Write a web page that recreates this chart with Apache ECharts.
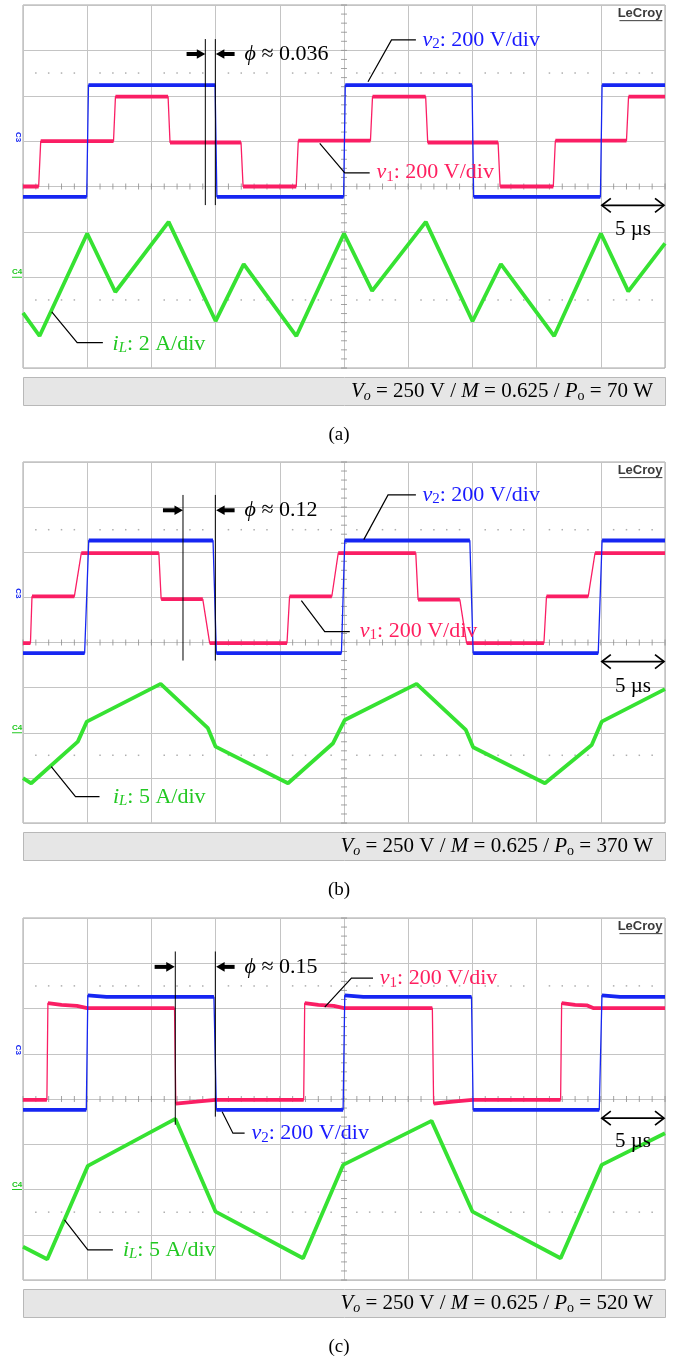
<!DOCTYPE html>
<html>
<head>
<meta charset="utf-8">
<title>Oscilloscope waveforms</title>
<script src="https://cdn.jsdelivr.net/npm/echarts@6.0.0/dist/echarts.min.js"></script>
<style>
html,body{margin:0;padding:0;background:#fff;}
#chart{width:679px;height:1359px;}
</style>
</head>
<body>
<div id="chart"></div>
<script>
// ---------------- data: time in µs, voltage in V, current in A ----------------
// panel (a)  Po = 70 W
const v1_a = [[0,-200],[1.22,-200],[1.38,0],[7.05,0],[7.2,196],[11.3,196],[11.45,-6],[16.98,-6],[17.14,-200],[21.28,-200],[21.44,2],[27.06,2],[27.22,196],[31.36,196],[31.52,-6],[37.0,-6],[37.16,-200],[41.3,-200],[41.46,2],[47.0,2],[47.16,196],[50,196]];
const v2_a = [[0,-246],[4.96,-246],[5.1,247],[14.96,247],[15.1,-246],[24.97,-246],[25.1,247],[34.97,247],[35.1,-246],[44.97,-246],[45.1,247],[50,247]];
const iL_a = [[0,-1.57],[1.29,-2.59],[5.0,1.93],[7.19,-0.65],[11.34,2.44],[15.0,-1.93],[17.19,0.58],[21.29,-2.59],[25.0,1.93],[27.19,-0.6],[31.37,2.44],[35.01,-1.94],[37.22,0.58],[41.37,-2.59],[45.01,1.93],[47.14,-0.62],[50,1.49]];
// panel (b)  Po = 370 W
const v1_b = [[0,-203],[0.58,-203],[0.7,4],[4.0,4],[4.54,196],[10.58,196],[10.76,-8],[14.0,-8],[14.54,-203],[20.56,-203],[20.76,4],[24.05,4],[24.55,196],[30.59,196],[30.77,-10],[34.02,-10],[34.55,-203],[40.57,-203],[40.77,4],[44.02,4],[44.55,196],[50,196]];
const v2_b = [[0,-247],[4.8,-247],[5.12,252],[14.8,252],[15.06,-247],[24.8,-247],[25.06,252],[34.8,252],[35.06,-247],[44.8,-247],[45.1,252],[50,252]];
const iL_b = [[0,-5.04],[0.64,-5.6],[4.27,-0.98],[4.97,1.23],[10.72,5.41],[14.4,0.5],[15.0,-1.54],[20.64,-5.6],[24.15,-1.16],[25.06,1.42],[30.65,5.41],[34.49,0.31],[35.06,-1.61],[40.65,-5.6],[44.29,-1.35],[45.07,1.23],[50,4.83]];
// panel (c)  Po = 520 W
const v1_c = [[0,-204],[1.86,-204],[1.94,224],[3.0,216],[4.2,212],[5.0,202],[11.8,202],[11.9,-220],[13.5,-212],[15.0,-204],[21.86,-204],[21.94,224],[23.0,216],[24.2,212],[25.0,202],[31.88,202],[31.98,-220],[33.5,-212],[35.0,-204],[41.87,-204],[41.95,224],[43.0,216],[43.9,214],[44.4,202],[50,202]];
const v2_c = [[0,-248],[4.93,-248],[5.05,258],[6.5,251],[14.87,251],[15.06,-248],[24.93,-248],[25.06,258],[26.5,251],[34.93,251],[35.06,-248],[44.88,-248],[45.09,258],[46.5,251],[50,251]];
const iL_c = [[0,-6.32],[1.89,-7.71],[5.05,2.61],[11.86,7.81],[15.0,-2.45],[21.81,-7.6],[24.93,2.72],[31.82,7.58],[35.01,-2.45],[41.87,-7.6],[45.07,2.72],[50,6.22]];

const panelTags   = ['(a)','(b)','(c)'];
const powerValues = ['70 W','370 W','520 W'];
const phiValues   = ['0.036','0.12','0.15'];
const iLScaleText = ['2 A/div','5 A/div','5 A/div'];
const iPerDiv     = [2,5,5];          // A per division
const vPerDiv     = 200;              // V per division
const timePerDiv  = 5;                // µs per division

const V1 = [v1_a, v1_b, v1_c];
const V2 = [v2_a, v2_b, v2_c];
const IL = [iL_a, iL_b, iL_c];

// ---------------- layout ----------------
const GX = 23, GW = 642;
const GT = [5, 462, 918];
const GH = [363, 361, 362];
const SERIF = "'Liberation Serif','Times New Roman',serif";
const RED = '#fa1e64', BLUE = '#1626f2', GREEN = '#36e232';
const RED_T = '#ff2060', BLUE_T = '#1a1aff', GREEN_T = '#22c822';

// break a step waveform at its fast edges so that the flat parts can be drawn thick
function flats(data){
  const out = [];
  for (let i = 0; i < data.length; i++){
    out.push(data[i]);
    if (i < data.length - 1){
      const dt = data[i+1][0] - data[i][0], dv = Math.abs(data[i+1][1] - data[i][1]);
      if (dt < 0.7 && dv > 60) out.push([(data[i][0]+data[i+1][0])/2, '-']);
    }
  }
  return out;
}

// grid decoration: centre-cross minor ticks and dotted reference lines
function decoTicksH(){ const a=[]; for(let t=0;t<=50;t+=1) a.push([t,-200]); return a; }
function decoTicksV(){ const a=[]; for(let v=-1000;v<=600;v+=40) a.push([25,v]); return a; }
function decoDots(){ const a=[]; for(let t=1;t<50;t+=1){ if(t%5) { a.push([t,300]); a.push([t,-700]); } } return a; }

const grids=[], xAxes=[], yAxes=[], series=[];
for (let k=0;k<3;k++){
  grids.push({left:GX, top:GT[k], width:GW, height:GH[k], show:true, borderColor:'#a4a4a4', borderWidth:1, backgroundColor:'#fff'});
  xAxes.push({gridIndex:k, type:'value', min:0, max:10*timePerDiv, interval:timePerDiv,
    axisLine:{show:false}, axisTick:{show:false}, axisLabel:{show:false},
    splitLine:{show:true, lineStyle:{color:'#c4c4c4', width:1}}});
  yAxes.push({gridIndex:k, type:'value', min:-5*vPerDiv, max:3*vPerDiv, interval:vPerDiv,
    axisLine:{show:false}, axisTick:{show:false}, axisLabel:{show:false},
    splitLine:{show:true, lineStyle:{color:'#c4c4c4', width:1}}});
  yAxes.push({gridIndex:k, type:'value', min:-2*iPerDiv[k], max:6*iPerDiv[k], show:false, splitLine:{show:false}});
  const base = {xAxisIndex:k, yAxisIndex:2*k, silent:true, animation:false};
  series.push(Object.assign({type:'scatter', data:decoTicksH(), symbol:'rect', symbolSize:[1,6], itemStyle:{color:'#8c8c8c'}, z:1}, base));
  series.push(Object.assign({type:'scatter', data:decoTicksV(), symbol:'rect', symbolSize:[6,1], itemStyle:{color:'#8c8c8c'}, z:1}, base));
  series.push(Object.assign({type:'scatter', data:decoDots(), symbol:'rect', symbolSize:[1.5,1.5], itemStyle:{color:'#9a9a9a'}, z:1}, base));
  const ln = (data, color, w, z, yi) => ({type:'line', xAxisIndex:k, yAxisIndex:yi, data:data, symbol:'none', showSymbol:false,
      lineStyle:{color:color, width:w}, silent:true, animation:false, z:z, connectNulls:false});
  series.push(ln(V1[k], RED, 1.3, 3, 2*k));
  series.push(ln(flats(V1[k]), RED, 3.8, 3, 2*k));
  series.push(ln(V2[k], BLUE, 1.3, 4, 2*k));
  series.push(ln(flats(V2[k]), BLUE, 3.8, 4, 2*k));
  series.push(ln(IL[k], GREEN, 3.8, 5, 2*k+1));
}

const chart = echarts.init(document.getElementById('chart'), null, {renderer:'canvas'});
chart.setOption({animation:false, backgroundColor:'#fff', grid:grids, xAxis:xAxes, yAxis:yAxes, series:series});

// ---------------- annotations (positions in µs / screen divisions) ----------------
const notes = [
  { phiLines:[[14.2,7.25,3.59],[14.98,7.25,3.59]], arrR:[12.74,14.2], arrL:[16.48,15.02], arrY:6.92, phiAt:[17.26,6.92],
    labels:[
      {who:'v2', pts:[[30.6,7.23],[28.7,7.23],[26.87,6.31]], at:[31.11,7.23]},
      {who:'v1', pts:[[23.11,4.95],[25.06,4.30],[27.0,4.30]], at:[27.53,4.31]},
      {who:'iL', pts:[[2.24,1.235],[4.22,0.56],[6.22,0.56]], at:[6.98,0.53]} ],
    us:[3.585,3.05] },
  { phiLines:[[12.46,7.27,3.60],[14.98,7.27,3.60]], arrR:[10.9,12.46], arrL:[16.48,15.04], arrY:6.93, phiAt:[17.26,6.93],
    labels:[
      {who:'v2', pts:[[30.6,7.27],[28.43,7.27],[26.54,6.28]], at:[31.11,7.27]},
      {who:'v1', pts:[[21.68,4.93],[23.5,4.243],[25.45,4.243]], at:[26.23,4.26]},
      {who:'iL', pts:[[2.2,1.25],[4.09,0.583],[5.96,0.583]], at:[7.0,0.575]} ],
    us:[3.577,3.02] },
  { phiLines:[[11.86,7.26,3.43],[14.98,7.26,3.61]], arrR:[10.25,11.82], arrL:[16.48,15.04], arrY:6.92, phiAt:[17.26,6.92],
    labels:[
      {who:'v1', pts:[[23.5,6.03],[25.58,6.67],[27.26,6.67]], at:[27.79,6.67]},
      {who:'v2', pts:[[15.51,3.716],[16.35,3.245],[17.26,3.245]], at:[17.79,3.245]},
      {who:'iL', pts:[[3.23,1.327],[5.05,0.664],[7.0,0.664]], at:[7.78,0.664]} ],
    us:[3.577,3.06] }
];

function P(k,t,d){ return chart.convertToPixel({xAxisIndex:k, yAxisIndex:2*k}, [t,(d-5)*vPerDiv]); }
function richSet(color,size){
  const sub = Math.round(size*0.66), pad = Math.round(size*0.42);
  return {
    n:{fill:color,fontFamily:SERIF,fontSize:size},
    i:{fill:color,fontFamily:SERIF,fontSize:size,fontStyle:'italic'},
    s:{fill:color,fontFamily:SERIF,fontSize:sub,padding:[pad,0,0,0]},
    si:{fill:color,fontFamily:SERIF,fontSize:sub,fontStyle:'italic',padding:[pad,0,0,0]}
  };
}
function txt(x,y,str,color,size,align){
  return {type:'text', x:x, y:y, z:100, silent:true,
    style:{text:str, rich:richSet(color,size), fill:color, fontFamily:SERIF, fontSize:size, align:align||'left', verticalAlign:'middle'}};
}
const G = [];
function seg(a,b,w,c){ G.push({type:'line', z:90, silent:true, shape:{x1:a[0],y1:a[1],x2:b[0],y2:b[1]}, style:{stroke:c||'#000', lineWidth:w||1}}); }
function poly(pts,w){ G.push({type:'polyline', z:90, silent:true, shape:{points:pts}, style:{stroke:'#000', lineWidth:w||1.2, fill:null}}); }

for (let k=0;k<3;k++){
  const n = notes[k];
  // phase-shift markers
  n.phiLines.forEach(l => seg(P(k,l[0],l[1]), P(k,l[0],l[2]), 1));
  [n.arrR, n.arrL].forEach(ar => {
    const a = P(k,ar[0],n.arrY), b = P(k,ar[1],n.arrY), dir = Math.sign(b[0]-a[0]);
    seg(a, [b[0]-dir*7, b[1]], 4);
    G.push({type:'polygon', z:90, silent:true, shape:{points:[[b[0],b[1]],[b[0]-dir*8.5,b[1]-4.8],[b[0]-dir*8.5,b[1]+4.8]]}, style:{fill:'#000'}});
  });
  const pa = P(k,n.phiAt[0],n.phiAt[1]);
  G.push(txt(pa[0],pa[1],'{i|\u03d5}{n| \u2248 '+phiValues[k]+'}','#000',22));
  // channel labels with leaders
  n.labels.forEach(L => {
    poly(L.pts.map(p => P(k,p[0],p[1])), 1.2);
    const q = P(k,L.at[0],L.at[1]);
    let s, c;
    if (L.who==='v1'){ s='{i|v}{s|1}{n|: 200 V/div}'; c=RED_T; }
    else if (L.who==='v2'){ s='{i|v}{s|2}{n|: 200 V/div}'; c=BLUE_T; }
    else { s='{i|i}{si|L}{n|: '+iLScaleText[k]+'}'; c=GREEN_T; }
    G.push(txt(q[0],q[1],s,c,22));
  });
  // 5 µs time-base marker
  const a = P(k,9*timePerDiv,n.us[0]), b = P(k,10*timePerDiv,n.us[0]);
  seg([a[0]+1,a[1]],[b[0]-1,b[1]],1.7);
  poly([[a[0]+10,a[1]-7],[a[0]+1,a[1]],[a[0]+10,a[1]+7]],1.7);
  poly([[b[0]-10,b[1]-7],[b[0]-1,b[1]],[b[0]-10,b[1]+7]],1.7);
  const u = P(k,9.5*timePerDiv,n.us[1]);
  G.push(txt(u[0],u[1],'{n|5 \u00b5s}','#000',21,'center'));
  // LeCroy logo
  const lc = P(k,49.8,7.82);
  G.push({type:'text', x:lc[0], y:lc[1], z:100, silent:true, style:{text:'LeCroy', fill:'#3a3a3a', fontFamily:"'Liberation Sans',Arial,sans-serif", fontSize:13, fontWeight:'bold', align:'right', verticalAlign:'middle'}});
  seg([lc[0]-43,lc[1]+7.5],[lc[0],lc[1]+7.5],1,'#3a3a3a');
  // channel ground markers
  const c3 = P(k,0,5), c4 = P(k,0,2);
  G.push({type:'text', x:GX-5, y:c3[1]-4, rotation:-Math.PI/2, z:100, silent:true, style:{text:'C3', fill:BLUE, fontFamily:"'Liberation Sans',Arial,sans-serif", fontSize:8, fontWeight:'bold', align:'center', verticalAlign:'middle'}});
  G.push({type:'text', x:GX-6, y:c4[1]-5, z:100, silent:true, style:{text:'C4', fill:GREEN_T, fontFamily:"'Liberation Sans',Arial,sans-serif", fontSize:8, fontWeight:'bold', align:'center', verticalAlign:'middle'}});
  seg([GX-11,c4[1]],[GX-1,c4[1]],1,GREEN_T);
  // condition bar and panel tag
  const barTop = GT[k] + GH[k] + 9.5;
  G.push({type:'rect', z:80, silent:true, shape:{x:GX+0.5, y:barTop, width:GW, height:28}, style:{fill:'#e6e6e6', stroke:'#b8b8b8', lineWidth:1}});
  G.push(txt(GX+GW-12, barTop+14, '{i|V}{si|o}{n| = 250 V / }{i|M}{n| = 0.625 / }{i|P}{s|o}{n| = '+powerValues[k]+'}', '#000', 21, 'right'));
  G.push(txt(339, barTop+58, '{n|'+panelTags[k]+'}', '#000', 19, 'center'));
}
chart.setOption({graphic:{elements:G}});
</script>
</body>
</html>
